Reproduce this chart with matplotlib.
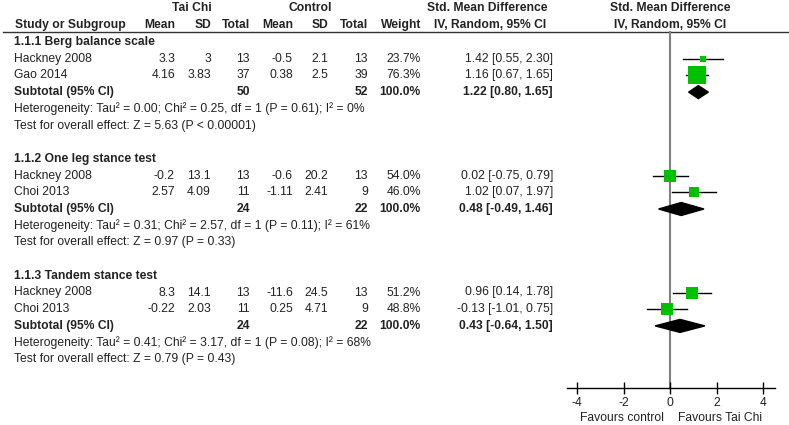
import matplotlib
matplotlib.use("Agg")
import matplotlib.pyplot as plt

plt.rcParams["font.family"] = ["Liberation Sans", "DejaVu Sans"]
plt.rcParams["axes.unicode_minus"] = False

# subgroups
groups = ["1.1.1 Berg balance scale", "1.1.2 One leg stance test", "1.1.3 Tandem stance test"]

# individual studies
study_group = [0, 0, 1, 1, 2, 2]
study_names = ["Hackney 2008", "Gao 2014", "Hackney 2008", "Choi 2013", "Hackney 2008", "Choi 2013"]
tc_mean = [3.3, 4.16, -0.2, 2.57, 8.3, -0.22]
tc_sd = [3, 3.83, 13.1, 4.09, 14.1, 2.03]
tc_n = [13, 37, 13, 11, 13, 11]
ctl_mean = [-0.5, 0.38, -0.6, -1.11, -11.6, 0.25]
ctl_sd = [2.1, 2.5, 20.2, 2.41, 24.5, 4.71]
ctl_n = [13, 39, 13, 9, 13, 9]
weight = [23.7, 76.3, 54.0, 46.0, 51.2, 48.8]
smd = [1.42, 1.16, 0.02, 1.02, 0.96, -0.13]
smd_lo = [0.55, 0.67, -0.75, 0.07, 0.14, -1.01]
smd_hi = [2.30, 1.65, 0.79, 1.97, 1.78, 0.75]

# subtotals
sub_smd = [1.22, 0.48, 0.43]
sub_lo = [0.80, -0.49, -0.64]
sub_hi = [1.65, 1.46, 1.50]
tau2 = [0.00, 0.31, 0.41]
chi2 = [0.25, 2.57, 3.17]
het_df = [1, 1, 1]
het_p = ["0.61", "0.11", "0.08"]
i2 = [0, 61, 68]
z_val = [5.63, 0.97, 0.79]
z_p = ["P < 0.00001", "P = 0.33", "P = 0.43"]

axis_ticks = [-4, -2, 0, 2, 4]

W, H = 789, 425
FS = 8.75
ROW0, ROWH = 42, 16.7

fig = plt.figure(figsize=(W / 100, H / 100), dpi=100)
ax = fig.add_axes([0, 0, 1, 1])
ax.set_xlim(0, W)
ax.set_ylim(H, 0)
ax.axis("off")

# forest panel, 0 at x=670 px, 23.25 px per unit
px_unit = 23.25
x0_px = 670
fl, fr = 567, 775
fax = fig.add_axes([fl / W, 0, (fr - fl) / W, 1])
fax.set_xlim((fl - x0_px) / px_unit, (fr - x0_px) / px_unit)
fax.set_ylim(H, 0)
fax.patch.set_alpha(0)
for s in ["left", "right", "top"]:
    fax.spines[s].set_visible(False)
fax.spines["bottom"].set_position(("data", 388))
fax.spines["bottom"].set_linewidth(1)
fax.set_yticks([])
fax.set_xticks(axis_ticks)
fax.set_xticklabels([str(t) for t in axis_ticks])
fax.tick_params(axis="x", direction="inout", length=8, width=1, pad=2.5,
                labelsize=FS, labelcolor="#222222")


def t(x, y, s, ha="left", bold=False):
    ax.text(x, y, s, ha=ha, va="center", fontsize=FS,
            fontweight="bold" if bold else "normal", color="#222222")


# header
t(192, 8, "Tai Chi", ha="center", bold=True)
t(310, 8, "Control", ha="center", bold=True)
t(487, 8, "Std. Mean Difference", ha="center", bold=True)
t(670, 8, "Std. Mean Difference", ha="center", bold=True)
t(15, 25, "Study or Subgroup", bold=True)
for xr, lab in [(175, "Mean"), (211, "SD"), (250, "Total"), (293, "Mean"),
                (328, "SD"), (368, "Total"), (421, "Weight")]:
    t(xr, 25, lab, ha="right", bold=True)
t(490, 25, "IV, Random, 95% CI", ha="center", bold=True)
t(670, 25, "IV, Random, 95% CI", ha="center", bold=True)
ax.plot([3, W], [31.5, 31.5], color="#333333", lw=1)

fax.plot([0, 0], [32, 388], color="#808080", lw=1.5, zorder=1)

for g, name in enumerate(groups):
    base = g * 7
    t(14, ROW0 + base * ROWH, name, bold=True)
    idx = [i for i, sg in enumerate(study_group) if sg == g]
    for k, i in enumerate(idx):
        y = ROW0 + (base + 1 + k) * ROWH
        t(14, y, study_names[i])
        t(175, y, f"{tc_mean[i]:g}", ha="right")
        t(211, y, f"{tc_sd[i]:g}", ha="right")
        t(250, y, f"{tc_n[i]}", ha="right")
        t(293, y, f"{ctl_mean[i]:g}", ha="right")
        t(328, y, f"{ctl_sd[i]:g}", ha="right")
        t(368, y, f"{ctl_n[i]}", ha="right")
        t(421, y, f"{weight[i]:.1f}%", ha="right")
        t(553, y, f"{smd[i]:.2f} [{smd_lo[i]:.2f}, {smd_hi[i]:.2f}]", ha="right")
        fax.plot([smd_lo[i], smd_hi[i]], [y, y], color="black", lw=1, zorder=2)
        fax.plot(smd[i], y, marker="s", ms=0.235 * weight[i] * 0.72,
                 color="#00c000", mec="#00c000", mew=0, zorder=3)
    y = ROW0 + (base + 3) * ROWH
    t(14, y, "Subtotal (95% CI)", bold=True)
    t(250, y, f"{sum(tc_n[i] for i in idx)}", ha="right", bold=True)
    t(368, y, f"{sum(ctl_n[i] for i in idx)}", ha="right", bold=True)
    t(421, y, "100.0%", ha="right", bold=True)
    t(553, y, f"{sub_smd[g]:.2f} [{sub_lo[g]:.2f}, {sub_hi[g]:.2f}]", ha="right", bold=True)
    fax.fill([sub_lo[g], sub_smd[g], sub_hi[g], sub_smd[g]],
             [y, y - 6.5, y, y + 6.5], color="black", zorder=3)
    t(14, ROW0 + (base + 4) * ROWH,
      f"Heterogeneity: Tau² = {tau2[g]:.2f}; Chi² = {chi2[g]:.2f}, df = {het_df[g]} "
      f"(P = {het_p[g]}); I² = {i2[g]}%")
    t(14, ROW0 + (base + 5) * ROWH,
      f"Test for overall effect: Z = {z_val[g]:.2f} ({z_p[g]})")

t(622, 418, "Favours control", ha="center")
t(720, 418, "Favours Tai Chi", ha="center")

fig.savefig("out.png", dpi=100)
